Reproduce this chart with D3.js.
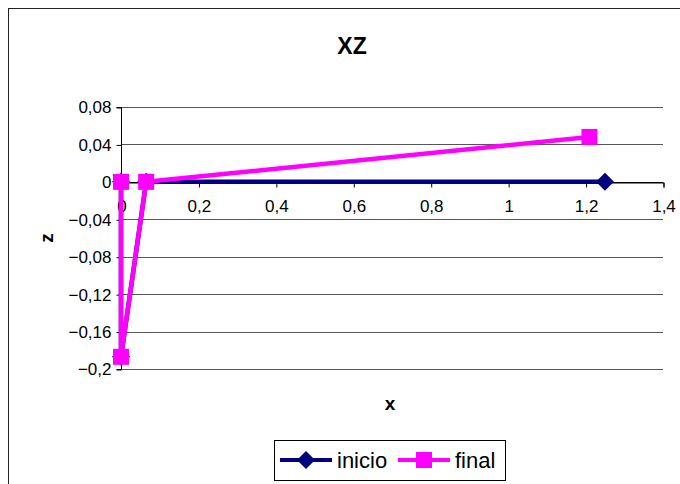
<!DOCTYPE html>
<html><head><meta charset="utf-8">
<script src="https://cdn.jsdelivr.net/npm/d3@7"></script>
<style>html,body{margin:0;padding:0;background:#fff;}svg{display:block;font-family:Arial,"Liberation Sans",sans-serif;}</style>
</head><body>
<script>
const seriesNames = ["inicio", "final"];
const inicioX = [0, 0, 0.065, 1.25];
const inicioZ = [0, -0.187, 0, 0];
const finalX = [0, 0, 0.065, 1.21];
const finalZ = [0, -0.187, 0, 0.048];
const xTicks = [0, 0.2, 0.4, 0.6, 0.8, 1, 1.2, 1.4];
const yTicks = [0.08, 0.04, 0, -0.04, -0.08, -0.12, -0.16, -0.2];
const colors = ["#000080", "#FF00FF"];

const W = 680, H = 484;
const svg = d3.select("body").append("svg").attr("width", W).attr("height", H);
svg.append("rect").attr("width", W).attr("height", H).attr("fill", "#fff");
svg.append("rect").attr("x", 8.5).attr("y", 8.5).attr("width", W).attr("height", H)
  .attr("fill", "none").attr("stroke", "#222").attr("stroke-width", 1);

const x = d3.scaleLinear().domain([0, 1.4]).range([121, 663]);
const y = d3.scaleLinear().domain([-0.2, 0.08]).range([369, 107]);
const fmt = d => d3.format("")(+d.toFixed(2)).replace(".", ",");

// gridlines
svg.append("g").selectAll("line").data(yTicks).join("line")
  .attr("x1", x(0)).attr("x2", x(1.4))
  .attr("y1", d => Math.round(y(d)) + 0.5).attr("y2", d => Math.round(y(d)) + 0.5)
  .attr("stroke", d => d === 0 ? "#000" : "#555").attr("stroke-width", 1);

// y axis
const yAxis = d3.axisLeft(y).tickValues(yTicks).tickSize(5).tickFormat(fmt);
const gy = svg.append("g").attr("transform", `translate(${x(0) + 0.5},0.5)`).call(yAxis);
gy.select(".domain").attr("stroke", "#000").attr("d", `M-5,${y(0.08)}H0V${y(-0.2)}H-5`);
gy.selectAll(".tick line").attr("stroke", "#000");
gy.selectAll(".tick text").attr("font-size", 17).attr("fill", "#000").attr("x", -10)
  .attr("font-family", "Arial, 'Liberation Sans', sans-serif");

// x axis at z=0
const xAxis = d3.axisBottom(x).tickValues(xTicks).tickSize(5).tickFormat(fmt);
const gx = svg.append("g").attr("transform", `translate(0.5,${Math.round(y(0)) + 0.5})`).call(xAxis);
gx.select(".domain").attr("stroke", "#000");
gx.selectAll(".tick line").attr("stroke", "#000");
gx.selectAll(".tick text").attr("font-size", 17).attr("fill", "#000").attr("dy", "1.25em")
  .attr("font-family", "Arial, 'Liberation Sans', sans-serif");

// series
const series = [
  {name: seriesNames[0], xs: inicioX, zs: inicioZ, color: colors[0], shape: "diamond"},
  {name: seriesNames[1], xs: finalX, zs: finalZ, color: colors[1], shape: "square"}
];
const line = d3.line().x(d => x(d[0])).y(d => y(d[1]));
const diamond = (cx, cy, r) => `M${cx},${cy - r}L${cx + r},${cy}L${cx},${cy + r}L${cx - r},${cy}Z`;
series.forEach(s => {
  const pts = s.xs.map((v, i) => [v, s.zs[i]]);
  svg.append("path").attr("d", line(pts)).attr("fill", "none")
    .attr("stroke", s.color).attr("stroke-width", 4.5).attr("stroke-linejoin", "round");
  const g = svg.append("g");
  if (s.shape === "diamond") {
    g.selectAll("path").data(pts).join("path")
      .attr("d", d => diamond(x(d[0]), y(d[1]), 9)).attr("fill", s.color);
  } else {
    g.selectAll("rect").data(pts).join("rect")
      .attr("x", d => x(d[0]) - 8).attr("y", d => y(d[1]) - 8)
      .attr("width", 16).attr("height", 16).attr("fill", s.color);
  }
});

// titles
svg.append("text").attr("x", 352).attr("y", 54).attr("text-anchor", "middle")
  .attr("font-size", 23).attr("font-weight", "bold").text("XZ");
svg.append("text").attr("x", 390).attr("y", 410).attr("text-anchor", "middle")
  .attr("font-size", 19).attr("font-weight", "bold").text("x");
svg.append("text").attr("transform", "translate(53,238) rotate(-90)").attr("text-anchor", "middle")
  .attr("font-size", 19).attr("font-weight", "bold").text("z");

// legend
const lg = svg.append("g");
lg.append("rect").attr("x", 274.5).attr("y", 440.5).attr("width", 231).attr("height", 40)
  .attr("fill", "#fff").attr("stroke", "#000");
const legendX = [280, 398];
series.forEach((s, i) => {
  const lx = legendX[i], ly = 460;
  lg.append("line").attr("x1", lx).attr("x2", lx + 52).attr("y1", ly).attr("y2", ly)
    .attr("stroke", s.color).attr("stroke-width", 4);
  if (s.shape === "diamond") lg.append("path").attr("d", diamond(lx + 26, ly, 9)).attr("fill", s.color);
  else lg.append("rect").attr("x", lx + 18).attr("y", ly - 8).attr("width", 16).attr("height", 16).attr("fill", s.color);
  lg.append("text").attr("x", lx + 57).attr("y", ly + 8).attr("font-size", 22).text(s.name);
});
</script>
</body></html>
